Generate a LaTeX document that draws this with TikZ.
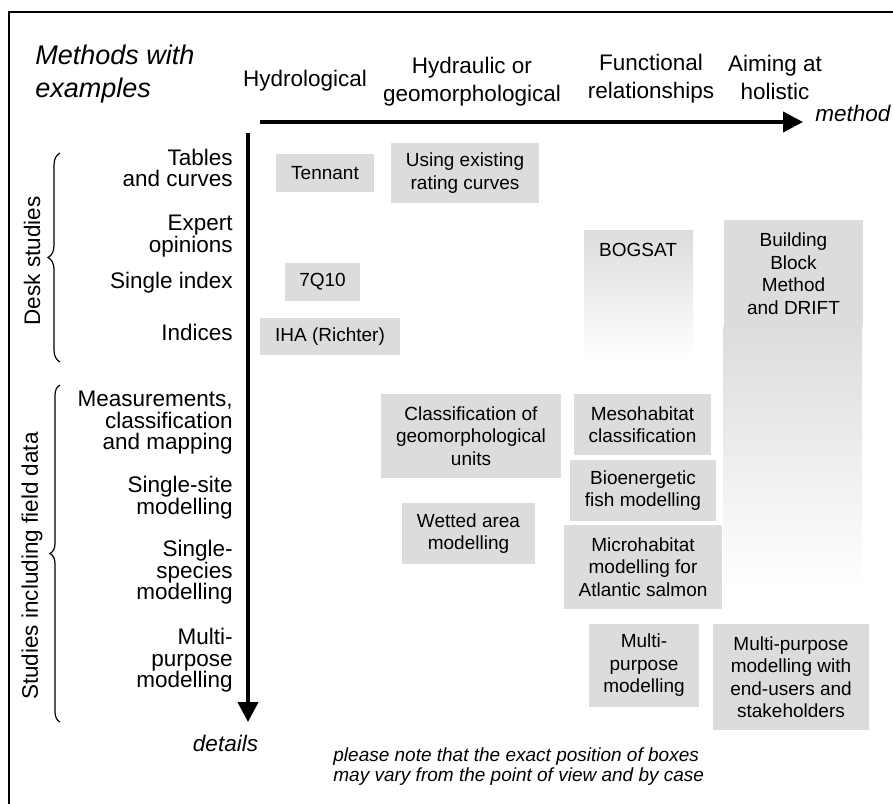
\documentclass[tikz,border=0pt]{standalone}
\usepackage{fontspec}
\setmainfont{Liberation Sans}
\usetikzlibrary{arrows.meta,decorations.pathreplacing}
\definecolor{boxgray}{RGB}{220,220,220}

\begin{document}
\begin{tikzpicture}[x=0.5pt,y=-0.5pt,
    every node/.style={inner sep=0pt},
    mbox/.style={fill=boxgray,align=center,font=\fontsize{9.5}{11.25}\selectfont},
    rowlab/.style={anchor=east,align=right,font=\fontsize{11.25}{10.75}\selectfont},
    colhead/.style={align=center,font=\fontsize{11.25}{14}\selectfont},
    axisarrow/.style={line width=2pt,-{Triangle[length=10pt,width=10pt]}},
    grp/.style={decorate,decoration={brace,amplitude=#1},line width=0.6pt}]
\useasboundingbox (0,0) rectangle (893,803);
\draw[line width=1pt] (9,900) |- (950,12);

% title and column heads
\node[anchor=west,align=left,font=\fontsize{13.5}{16.5}\selectfont\itshape] (title) at (35,74) {Methods with\\examples};
\node[colhead] (hydro) at (305,81) {Hydrological};
\node[colhead] (hydraulic) at (472,81.5) {Hydraulic or\\geomorphological};
\node[colhead] (functional) at (651,78.5) {Functional\\relationships};
\node[colhead] (holistic) at (775,77) {Aiming at\\holistic};

% axes
\coordinate (hstart) at (260,122);
\coordinate (hend) at (803,122);
\coordinate (vstart) at (248,133);
\coordinate (vend) at (248,722);
\draw[axisarrow] (hstart) -- (hend);
\draw[axisarrow] (vstart) -- (vend);
\node[anchor=west,font=\fontsize{11.25}{13}\selectfont\itshape] (method) at (815,113) {method};
\node[font=\fontsize{11.25}{13}\selectfont\itshape] (details) at (225.5,743.5) {details};

% row labels
\node[rowlab] (tables) at (233,168) {Tables\\and curves};
\node[rowlab] (expert) at (233,236) {Expert\\opinions};
\node[rowlab] (sindex) at (233,282.5) {Single index};
\node[rowlab] (indices) at (233,332.5) {Indices};
\node[rowlab] (measure) at (233,423) {Measurements,\\classification\\and mapping};
\node[rowlab] (ssite) at (233,497.5) {Single-site\\modelling};
\node[rowlab] (sspecies) at (233,572.5) {Single-\\species\\modelling};
\node[rowlab] (mpurpose) at (233,660.5) {Multi-\\purpose\\modelling};

% groups
\draw[grp=6pt] (60,362) -- (60,153);
\draw[grp=5pt] (60,722) -- (60,385);
\node[rotate=90,font=\fontsize{11.25}{13}\selectfont] (desk) at (32,261) {Desk studies};
\node[rotate=90,font=\fontsize{11.25}{13}\selectfont] (field) at (32,566) {Studies including field data};

% faded boxes
\shade[top color=boxgray,bottom color=white] (584,230) rectangle (693,358);
\shade[top color=boxgray,bottom color=white] (723,327) rectangle (862,590);
\node[font=\fontsize{9.5}{11.25}\selectfont] (bogsat) at (638,249.5) {BOGSAT};

% method boxes
\node[mbox,minimum width=49pt,minimum height=19pt] (tennant) at (325,173) {Tennant};
\node[mbox,minimum width=74pt,minimum height=30pt] (rating) at (465,173) {Using existing\\rating curves};
\node[mbox,minimum width=37.5pt,minimum height=19pt] (sevenq) at (322.5,282) {7Q10};
\node[mbox,minimum width=70pt,minimum height=18.5pt] (iha) at (330,336.5) {IHA (Richter)};
\node[mbox,minimum width=69.5pt,minimum height=53.5pt] (bbm) at (793.5,273.5) {Building\\Block\\Method\\and DRIFT};
\node[mbox,minimum width=90pt,minimum height=42pt] (geounits) at (471,436) {Classification of\\geomorphological\\units};
\node[mbox,minimum width=68.5pt,minimum height=30.5pt] (meso) at (642.5,424.5) {Mesohabitat\\classification};
\node[mbox,minimum width=73pt,minimum height=30.5pt] (bioen) at (643,490.5) {Bioenergetic\\fish modelling};
\node[mbox,minimum width=66.5pt,minimum height=30.5pt] (wetted) at (468.5,533.5) {Wetted area\\modelling};
\node[mbox,minimum width=79pt,minimum height=42pt] (micro) at (643,567) {Microhabitat\\modelling for\\Atlantic salmon};
\node[mbox,minimum width=55pt,minimum height=41.5pt] (multi) at (644,665.5) {Multi-\\purpose\\modelling};
\node[mbox,minimum width=78pt,minimum height=53pt] (stake) at (791,677) {Multi-purpose\\modelling with\\end-users and\\stakeholders};

% note
\node[anchor=west,align=left,font=\fontsize{9.5}{10}\selectfont\itshape] (note) at (333,767) {please note that the exact position of boxes\\may vary from the point of view and by case};
\end{tikzpicture}
\end{document}
